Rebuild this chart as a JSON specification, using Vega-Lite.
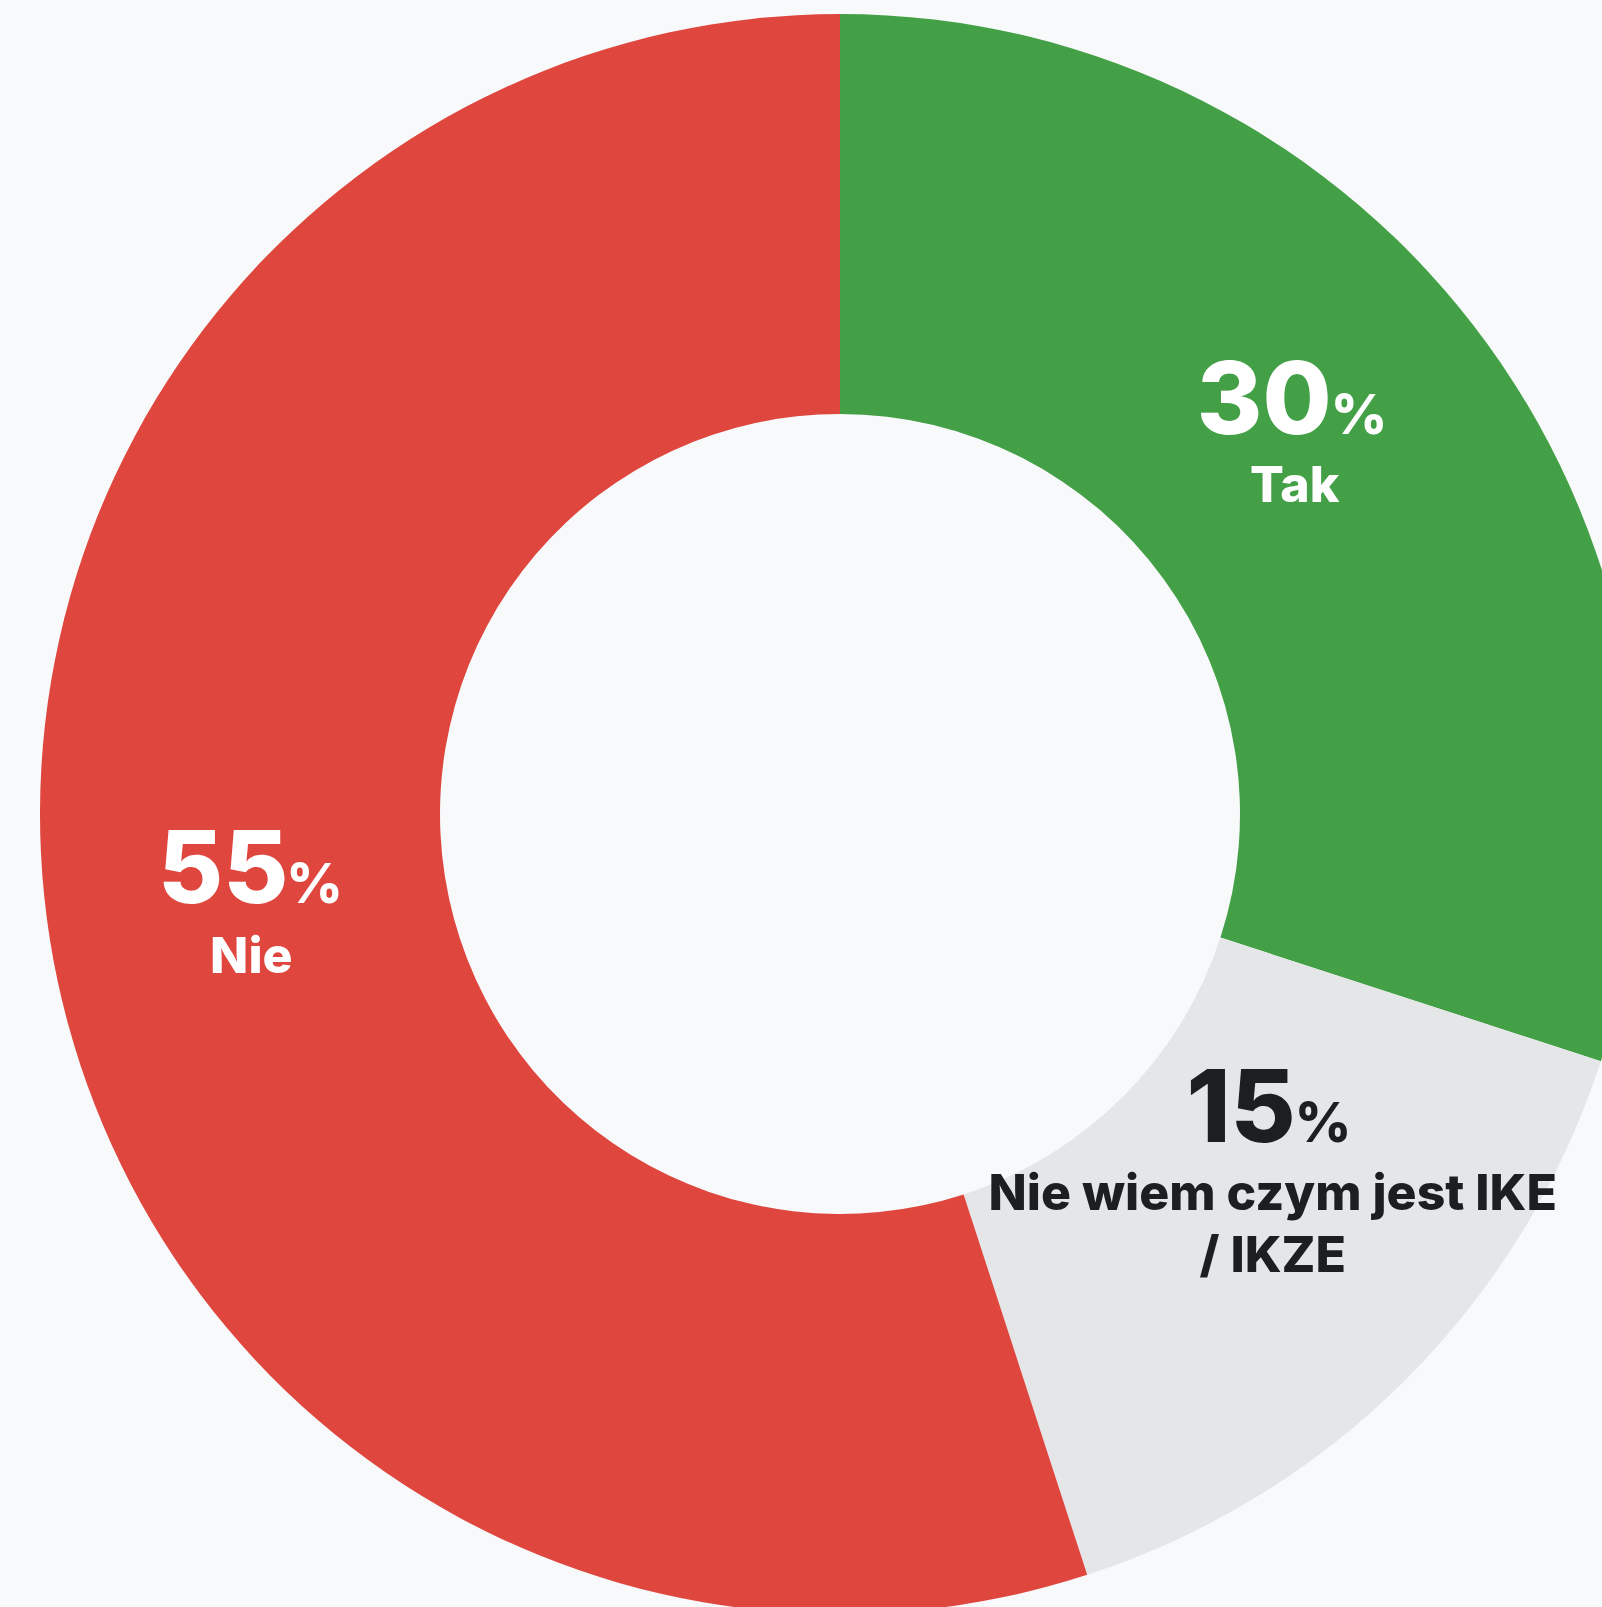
{
  "$schema": "https://vega.github.io/schema/vega-lite/v6.json",
  "autosize": {"type": "fit", "contains": "padding"},
  "width": 1602,
  "height": 1607,
  "padding": {"left": 78, "right": 0, "top": 21, "bottom": 0},
  "background": "#f8f9fa",
  "config": {"view": {"stroke": null}, "text": {"font": "Inter", "fontWeight": 800, "baseline": "alphabetic"}},
  "data": {"values": [
    {"label": "Tak", "value": 30, "num": "30", "pct": "%", "k": 1},
    {"label": "Nie wiem czym jest IKE\n/ IKZE", "value": 15, "num": "15", "pct": "%", "k": 2},
    {"label": "Nie", "value": 55, "num": "55", "pct": "%", "k": 3}
  ]},
  "encoding": {
    "theta": {"field": "value", "type": "quantitative", "stack": true, "scale": {"domain": [0, 100]}},
    "order": {"field": "k", "type": "quantitative"}
  },
  "layer": [
    {
      "mark": {"type": "arc", "innerRadius": 400, "outerRadius": 800},
      "encoding": {
        "color": {"field": "label", "type": "nominal", "legend": null,
          "scale": {"domain": ["Tak", "Nie wiem czym jest IKE\n/ IKZE", "Nie"], "range": ["#43a047", "#e5e6e8", "#de463e"]}}
      }
    },
    {
      "mark": {"type": "text", "radius": 562, "align": "right", "dx": 37, "dy": -50, "fontSize": 100, "color": "#ffffff"},
      "encoding": {"text": {"condition": {"test": "datum.k === 1", "field": "num"}, "value": ""}}
    },
    {
      "mark": {"type": "text", "radius": 562, "align": "left", "dx": 36, "dy": -50, "fontSize": 55, "color": "#ffffff"},
      "encoding": {"text": {"condition": {"test": "datum.k === 1", "field": "pct"}, "value": ""}}
    },
    {
      "mark": {"type": "text", "radius": 562, "align": "center", "dy": 18, "fontSize": 50, "color": "#ffffff"},
      "encoding": {"text": {"condition": {"test": "datum.k === 1", "field": "label"}, "value": ""}}
    },
    {
      "mark": {"type": "text", "radius": 596, "align": "right", "dx": 37, "dy": -4, "fontSize": 100, "color": "#ffffff"},
      "encoding": {"text": {"condition": {"test": "datum.k === 3", "field": "num"}, "value": ""}}
    },
    {
      "mark": {"type": "text", "radius": 596, "align": "left", "dx": 35, "dy": -4, "fontSize": 55, "color": "#ffffff"},
      "encoding": {"text": {"condition": {"test": "datum.k === 3", "field": "pct"}, "value": ""}}
    },
    {
      "mark": {"type": "text", "radius": 596, "align": "center", "dy": 66, "fontSize": 50, "color": "#ffffff"},
      "encoding": {"text": {"condition": {"test": "datum.k === 3", "field": "label"}, "value": ""}}
    },
    {
      "mark": {"type": "text", "radius": 612, "align": "right", "dx": 23, "dy": -105, "fontSize": 100, "color": "#1b1f22"},
      "encoding": {"text": {"condition": {"test": "datum.k === 2", "field": "num"}, "value": ""}}
    },
    {
      "mark": {"type": "text", "radius": 612, "align": "left", "dx": 22, "dy": -105, "fontSize": 55, "color": "#1b1f22"},
      "encoding": {"text": {"condition": {"test": "datum.k === 2", "field": "pct"}, "value": ""}}
    },
    {
      "mark": {"type": "text", "radius": 612, "align": "center", "dy": -37, "fontSize": 50, "color": "#1b1f22", "lineBreak": "\n", "lineHeight": 62},
      "encoding": {"text": {"condition": {"test": "datum.k === 2", "field": "label"}, "value": ""}}
    }
  ]
}
